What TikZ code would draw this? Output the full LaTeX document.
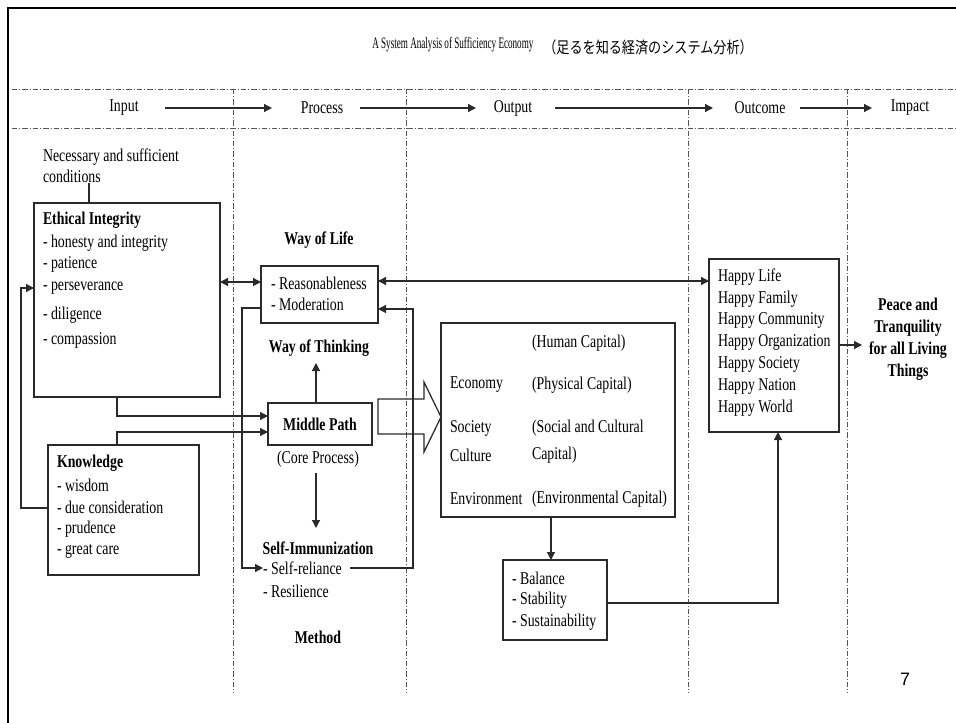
\documentclass[tikz,border=0pt]{standalone}
\usepackage{fontspec}
\setmainfont{Liberation Serif}[FakeStretch=0.77]
\newfontfamily\titlefont{Liberation Serif}[FakeStretch=0.57]
\newfontfamily\jpfont{Noto Sans CJK JP}[FakeStretch=0.82]
\newfontfamily\pgnumfont{Liberation Sans}
\usetikzlibrary{arrows.meta,calc}
\definecolor{linec}{HTML}{2A2A2A}
\definecolor{dashc}{HTML}{555555}
\tikzset{
  txt/.style={font=\fontsize{13.5}{16}\selectfont, inner sep=0pt, outer sep=0pt, text=black},
  btxt/.style={txt, font=\fontsize{13.5}{16.5}\selectfont\bfseries},
  box/.style={draw=linec, line width=0.95pt, inner sep=0pt, outer sep=0pt},
  arr/.style={draw=linec, line width=0.95pt, -{Triangle[length=6pt,width=6pt]}},
  dbl/.style={draw=linec, line width=0.95pt, {Triangle[length=6pt,width=6pt]}-{Triangle[length=6pt,width=6pt]}},
  plain/.style={draw=linec, line width=0.95pt},
  dd/.style={draw=dashc, line width=0.6pt, dash pattern=on 4pt off 1.5pt on 0.8pt off 1.5pt},
}
\begin{document}
\begin{tikzpicture}[x=0.75pt,y=-0.75pt]
\useasboundingbox (0,0) rectangle (956,723);
% slide frame
\draw[line width=2.2pt, black] (8,723) -- (8,8) -- (956,8);
% title
\node[anchor=west, inner sep=0pt, font=\titlefont\fontsize{12}{14}\selectfont] (title) at (372,45) {A System Analysis of Sufficiency Economy};
\node[anchor=west, inner sep=0pt, font=\jpfont\fontsize{12}{14}\selectfont] (titlejp) at (543,47) {（足るを知る経済のシステム分析）};
% grid lines
\draw[dd] (12,89) -- (956,89);
\draw[dd] (12,128) -- (956,128);
\foreach \gx in {233,406,688,847} \draw[dd] (\gx,89) -- (\gx,693);
% headers
\node[txt] (hin) at (124,108) {Input};
\node[txt] (hpr) at (322,108) {Process};
\node[txt] (hou) at (513,108) {Output};
\node[txt] (hoc) at (760,108) {Outcome};
\node[txt] (him) at (910,108) {Impact};
\coordinate (a1s) at (165,108); \coordinate (a1e) at (272,108);
\coordinate (a2s) at (360,108); \coordinate (a2e) at (476,108);
\coordinate (a3s) at (555,108); \coordinate (a3e) at (713,108);
\coordinate (a4s) at (800,108); \coordinate (a4e) at (872,108);
\draw[arr] (a1s) -- (a1e);
\draw[arr] (a2s) -- (a2e);
\draw[arr] (a3s) -- (a3e);
\draw[arr] (a4s) -- (a4e);
% boxes
\node[box, minimum width=139.5pt, minimum height=145.5pt] (ei) at (127,300) {};
\node[box, minimum width=87.75pt, minimum height=42.75pt] (wol) at (319.5,294.5) {};
\node[box, minimum width=78pt, minimum height=31.5pt, font=\fontsize{13.5}{16}\selectfont\bfseries] (mp) at (320,424) {Middle Path};
\node[box, minimum width=113.25pt, minimum height=97.5pt] (kn) at (123.5,510) {};
\node[box, minimum width=175.5pt, minimum height=145.5pt] (big) at (558,420) {};
\node[box, minimum width=78pt, minimum height=60pt] (bal) at (555,600) {};
\node[box, minimum width=97.5pt, minimum height=129.75pt] (hap) at (774,345.5) {};
% input texts
\node[txt, anchor=west, align=left] (nsc) at (43,166) {Necessary and sufficient\\conditions};
\node[btxt, anchor=west] (eit) at (43,220) {Ethical Integrity};
\node[txt, anchor=west] (ei1) at (43,243) {- honesty and integrity};
\node[txt, anchor=west] (ei2) at (43,264) {- patience};
\node[txt, anchor=west] (ei3) at (43,288) {- perseverance};
\node[txt, anchor=west] (ei4) at (43,315) {- diligence};
\node[txt, anchor=west] (ei5) at (43,340) {- compassion};
\node[btxt, anchor=west] (knt) at (57,463) {Knowledge};
\node[txt, anchor=west] (kn1) at (57,485) {- wisdom};
\node[txt, anchor=west] (kn2) at (57,507) {- due consideration};
\node[txt, anchor=west] (kn3) at (57,529) {- prudence};
\node[txt, anchor=west] (kn4) at (57,551) {- great care};
% process texts
\node[btxt] (wolt) at (319,240) {Way of Life};
\node[txt, anchor=west] (wol1) at (271,283) {- Reasonableness};
\node[txt, anchor=west] (wol2) at (271,304) {- Moderation};
\node[btxt] (wot) at (319,348) {Way of Thinking};
\node[txt] (core) at (318,459) {(Core Process)};
\node[btxt] (si) at (318,548) {Self-Immunization};
\node[txt, anchor=west] (sr) at (263,568) {- Self-reliance};
\node[txt, anchor=west] (res) at (263,591) {- Resilience};
\node[btxt] (meth) at (318,637) {Method};
% output texts
\node[txt, anchor=west] (o1) at (532,343) {(Human Capital)};
\node[txt, anchor=west] (o2a) at (450,385) {Economy};
\node[txt, anchor=west] (o2b) at (532,385) {(Physical Capital)};
\node[txt, anchor=west] (o3a) at (450,428) {Society};
\node[txt, anchor=west] (o3b) at (532,428) {(Social and Cultural};
\node[txt, anchor=west] (o4a) at (450,455) {Culture};
\node[txt, anchor=west] (o4b) at (532,455) {Capital)};
\node[txt, anchor=west] (o5a) at (450,499) {Environment};
\node[txt, anchor=west] (o5b) at (532,499) {(Environmental Capital)};
\node[txt, anchor=west] (b1) at (512,578) {- Balance};
\node[txt, anchor=west] (b2) at (512,600) {- Stability};
\node[txt, anchor=west] (b3) at (512,622) {- Sustainability};
% outcome texts
\foreach \t [count=\i from 0] in {Happy Life,Happy Family,Happy Community,Happy Organization,Happy Society,Happy Nation,Happy World}
  \node[txt, anchor=west] (h\i) at (718,{277+21.8*\i}) {\t};
% impact
\node[btxt, align=center] (peace) at (908,339) {Peace and\\Tranquility\\for all Living\\Things};
\node[inner sep=0pt, font=\pgnumfont\fontsize{13.5}{16}\selectfont] (pg) at (905,679) {7};
% connectors
\coordinate (tk) at (89,0);
\draw[plain] (nsc.south -| tk) -- (ei.north -| tk);
\draw[arr] (kn.west |- 0,508) -- ++(-27,0) |- (ei.west |- 0,288);
\coordinate (c117) at (117,0);
\draw[arr] (ei.south -| c117) |- (mp.west |- 0,416);
\draw[arr] (kn.north -| c117) |- (mp.west |- 0,432);
\draw[dbl] (ei.east |- 0,282) -- (wol.west |- 0,282);
\draw[dbl] (wol.east |- 0,281) -- (hap.west |- 0,281);
\draw[arr] (wol.west |- 0,308) -- ++(-19,0) |- (sr.west);
\coordinate (srend) at (350,568);
\coordinate (loopr) at (413,568);
\draw[arr] (srend) -- (loopr) |- (wol.east |- 0,309);
\coordinate (wotb) at (316,363);
\draw[arr] (mp.north -| wotb) -- (wotb);
\coordinate (cores) at (316,473);
\coordinate (sit) at (316,528);
\draw[arr] (cores) -- (sit);
\coordinate (c551) at (551,0);
\draw[arr] (big.south -| c551) -- (bal.north -| c551);
\coordinate (c778) at (778,0);
\draw[arr] (bal.east |- 0,603) -| (hap.south -| c778);
\coordinate (peacein) at (862,345);
\draw[arr] (hap.east |- peacein) -- (peacein);
% hollow arrow Middle Path -> outputs
\draw[plain] (378,399) -- (424,399) -- (424,382) -- (big.west |- 0,417) -- (424,452) -- (424,434) -- (378,434) -- cycle;
\end{tikzpicture}
\end{document}
